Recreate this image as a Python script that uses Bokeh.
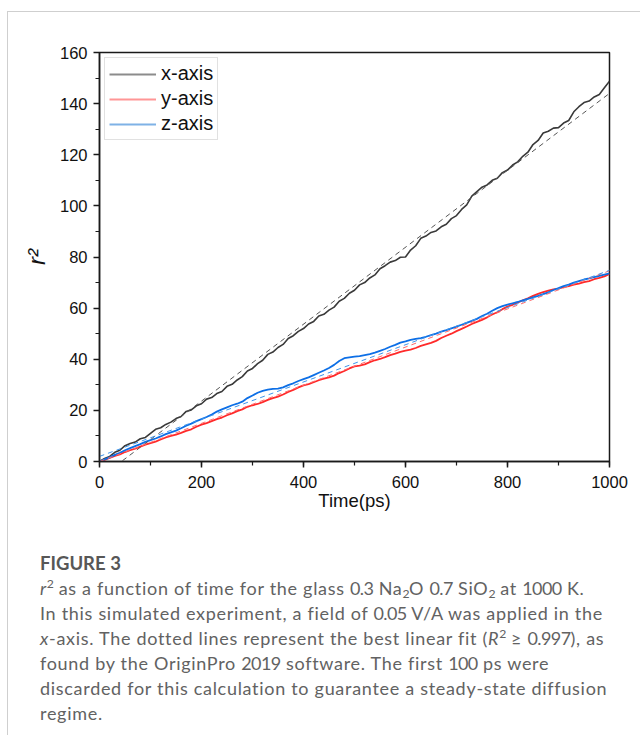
import re
from bokeh.plotting import figure
from bokeh.layouts import column
from bokeh.models import Range1d, SingleIntervalTicker, Legend, LegendItem, Div
from bokeh.embed import file_html
from bokeh.resources import INLINE

# ---------------- data ----------------
# sampling grid of the simulation output (ps)
time_ps = list(range(0, 1001, 10))

r2_x_axis = [0.0, 1.2, 2.0, 3.6, 4.4, 6.2, 7.0, 7.6, 8.9, 9.4,
             11.0, 12.6, 13.2, 14.5, 15.4, 16.8, 17.6, 19.6, 20.2, 21.8,
             22.6, 24.4, 25.0, 26.6, 27.4, 29.4, 30.2, 31.9, 33.2, 35.4,
             36.4, 38.3, 39.6, 41.9, 42.8, 44.6, 45.8, 48.1, 49.2, 50.9,
             52.0, 53.8, 54.8, 56.9, 57.6, 59.2, 60.4, 62.7, 63.8, 65.8,
             67.0, 69.1, 70.0, 71.8, 73.0, 75.4, 76.6, 78.0, 78.6, 79.9,
             80.0, 82.7, 84.4, 87.3, 88.2, 89.6, 90.2, 91.8, 92.8, 95.0,
             96.2, 98.6, 100.4, 103.8, 105.6, 107.3, 108.2, 110.0, 110.8, 113.0,
             114.0, 116.0, 117.2, 119.4, 121.0, 124.0, 125.6, 128.5, 129.2, 130.4,
             130.6, 132.4, 133.4, 136.8, 138.8, 140.4, 141.0, 142.6, 143.6, 146.2,
             148.8]

r2_y_axis = [0.0, 0.6, 1.4, 2.2, 2.8, 3.7, 4.4, 5.0, 5.8, 6.6,
             7.2, 7.8, 8.6, 9.4, 10.0, 10.5, 11.2, 12.0, 12.6, 13.6,
             14.4, 15.0, 15.8, 16.6, 17.2, 18.1, 18.8, 19.7, 20.4, 21.4,
             22.0, 22.5, 23.2, 24.1, 24.8, 25.4, 26.2, 27.2, 28.0, 29.0,
             29.8, 30.3, 31.0, 31.8, 32.4, 32.9, 33.6, 34.6, 35.4, 36.4,
             37.2, 37.5, 38.0, 38.9, 39.6, 40.1, 40.8, 41.6, 42.2, 42.9,
             43.4, 43.8, 44.4, 45.2, 45.8, 46.4, 47.2, 48.3, 49.2, 50.0,
             51.0, 51.9, 52.8, 53.8, 54.6, 55.4, 56.4, 57.5, 58.4, 59.6,
             60.6, 61.3, 62.2, 63.0, 63.8, 64.8, 65.6, 66.3, 66.8, 67.3,
             67.6, 68.2, 68.6, 69.2, 69.6, 70.2, 70.6, 71.3, 71.8, 72.4,
             73.4]

r2_z_axis = [0.0, 0.8, 1.6, 2.6, 3.4, 4.4, 5.2, 6.0, 6.8, 7.7,
             8.4, 9.0, 9.8, 10.7, 11.4, 12.1, 13.0, 14.0, 14.8, 15.8,
             16.6, 17.4, 18.4, 19.5, 20.4, 21.2, 22.0, 22.6, 23.4, 24.8,
             25.8, 26.9, 27.6, 28.1, 28.4, 28.5, 29.0, 29.9, 30.6, 31.5,
             32.2, 32.9, 33.8, 34.7, 35.6, 36.6, 37.8, 39.3, 40.4, 40.7,
             41.0, 41.2, 41.6, 42.0, 42.6, 43.3, 44.0, 44.9, 45.6, 46.5,
             47.0, 47.6, 48.0, 48.3, 48.8, 49.4, 50.0, 50.8, 51.4, 52.1,
             52.8, 53.5, 54.2, 55.0, 55.8, 56.9, 57.8, 59.0, 60.0, 60.8,
             61.4, 61.9, 62.4, 63.0, 63.6, 64.2, 64.8, 65.5, 66.2, 67.1,
             67.8, 68.6, 69.2, 70.0, 70.6, 71.2, 71.6, 72.1, 72.6, 73.1,
             73.6]

# linear fits (end points of the dashed lines)
fit_x_time = [45, 1000]
fit_x_r2 = [0.3, 144.0]
fit_y_time = [0, 1000]
fit_y_r2 = [0.0, 74.6]
fit_z_time = [0, 1000]
fit_z_r2 = [2.0, 74.8]

series_names = ["x-axis", "y-axis", "z-axis"]
x_ticks_interval = 200
y_ticks_interval = 20

caption_title = "FIGURE 3"
caption_lines = [
    '<i>r</i><sup>2</sup> as a function of time for the glass 0.3 Na<sub>2</sub>O 0.7 SiO<sub>2</sub> at 1000 K.',
    "In this simulated experiment, a field of 0.05 V/A was applied in the",
    '<i>x</i>-axis. The dotted lines represent the best linear fit (<i>R</i><sup>2</sup> &ge; 0.997), as',
    "found by the OriginPro 2019 software. The first 100 ps were",
    "discarded for this calculation to guarantee a steady-state diffusion",
    "regime.",
]

NAN = float("nan")

# ---------------- chart figure ----------------
W = 632
H1 = 513
p = figure(width=W, height=H1, output_backend="svg", toolbar_location=None,
           x_range=Range1d(0, 1000), y_range=Range1d(0, 160),
           min_border_left=91, min_border_right=31, min_border_top=40,
           min_border_bottom=64)
p.background_fill_color = "white"
p.border_fill_color = "white"
p.grid.visible = False
p.outline_line_color = "#1a1a1a"
p.outline_line_width = 1.5
p.outline_line_alpha = 1.0

for ax in (p.xaxis[0], p.yaxis[0]):
    ax.axis_line_color = "#1a1a1a"
    ax.axis_line_width = 1.5
    ax.major_tick_line_color = "#1a1a1a"
    ax.major_tick_line_width = 1.5
    ax.minor_tick_line_color = "#1a1a1a"
    ax.minor_tick_line_width = 1.2
    ax.major_tick_in = 0
    ax.major_tick_out = 6
    ax.minor_tick_in = 0
    ax.minor_tick_out = 4
    ax.major_label_text_font = "Liberation Sans"
    ax.major_label_text_font_size = "16.5px"
    ax.major_label_text_color = "#111111"
    ax.axis_label_text_font = "Liberation Sans"
    ax.axis_label_text_color = "#111111"

p.xaxis.ticker = SingleIntervalTicker(interval=x_ticks_interval, num_minor_ticks=2)
p.yaxis.ticker = SingleIntervalTicker(interval=y_ticks_interval, num_minor_ticks=2)
p.xaxis.major_label_standoff = 8
p.yaxis.major_label_standoff = 6
p.xaxis.axis_label = "Time(ps)"
p.xaxis.axis_label_text_font_size = "18.5px"
p.xaxis.axis_label_text_font_style = "normal"
p.xaxis.axis_label_standoff = -1
p.yaxis.axis_label = "r²"
p.yaxis.axis_label_text_font_size = "24px"
p.yaxis.axis_label_text_font_style = "italic"
p.yaxis.axis_label_standoff = 7

# data lines
p.line(time_ps, r2_x_axis, line_color="#3a3a3a", line_width=1.6)
p.line(time_ps, r2_y_axis, line_color="#ff2a2a", line_width=1.8)
p.line(time_ps, r2_z_axis, line_color="#0d6fe6", line_width=1.8)

# fits
p.line(fit_x_time, fit_x_r2, line_color="#555555", line_width=1.0, line_dash="5 4")
p.line(fit_y_time, fit_y_r2, line_color="#ff6a6a", line_width=1.0, line_dash="5 4")
p.line(fit_z_time, fit_z_r2, line_color="#3f95ea", line_width=1.0, line_dash="5 4")

# legend (lighter swatches as in the original)
lg_x = p.line([0], [NAN], line_color="#8c8c8c", line_width=2)
lg_y = p.line([0], [NAN], line_color="#ff9696", line_width=2)
lg_z = p.line([0], [NAN], line_color="#7fb2e6", line_width=2)
legend = Legend(items=[LegendItem(label=series_names[0], renderers=[lg_x]),
                       LegendItem(label=series_names[1], renderers=[lg_y]),
                       LegendItem(label=series_names[2], renderers=[lg_z])],
                location="top_left")
legend.margin = 5
legend.padding = 4
legend.spacing = 2
legend.glyph_width = 47
legend.glyph_height = 20
legend.label_standoff = 5
legend.label_height = 20
legend.label_text_font = "Liberation Sans"
legend.label_text_font_size = "20px"
legend.label_text_color = "#111111"
legend.border_line_color = "#c4c4c4"
legend.border_line_width = 1
legend.background_fill_color = "white"
legend.background_fill_alpha = 1.0
p.add_layout(legend)

# ---------------- caption ----------------
H2 = 210
sup_style = "font-size:0.68em;line-height:0;vertical-align:0.55em;"
sub_style = "font-size:0.68em;line-height:0;vertical-align:-0.22em;"
num_style = "letter-spacing:-0.6px;"


def fmt_line(ln):
    ln = re.sub(r"(?<![\w#])(\d[\d.]*\d|\d)(?![\w;])",
                lambda m: '<span style="%s">%s</span>' % (num_style, m.group(1)), ln)
    return '<div>' + ln + '</div>'


body = ('<div style="font-family:Lato;font-weight:700;font-size:18.5px;color:#575757;'
        'letter-spacing:0;">' + caption_title + '</div>')
body += "".join(fmt_line(ln) for ln in caption_lines)
body = body.replace("<sup>", '<sup style="%s">' % sup_style)
body = body.replace("<sub>", '<sub style="%s">' % sub_style)
html = ('<div style="font-family:Lato;font-size:18px;line-height:25px;color:#626262;'
        'letter-spacing:0.7px;white-space:nowrap;padding:26px 0 0 32px;margin:0;">'
        + body + '</div>')
caption = Div(text=html, width=W, height=H2, margin=0)

layout = column(p, caption, spacing=0,
                styles={"border-left": "1px solid #cfcfcf", "border-top": "1px solid #cfcfcf",
                        "margin-left": "7px", "margin-top": "11px"})

open("out.html", "w").write(file_html(layout, INLINE))
